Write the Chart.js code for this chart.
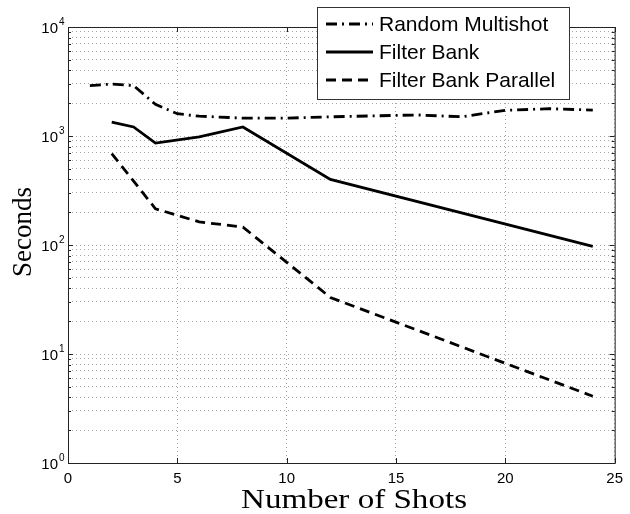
<!DOCTYPE html>
<html>
<head>
<meta charset="utf-8">
<script src="https://cdn.jsdelivr.net/npm/chart.js@4/dist/chart.umd.min.js"></script>
<style>
  html, body { margin: 0; padding: 0; background: #fff; }
  #wrap { width: 630px; height: 514px; position: relative; }
</style>
</head>
<body>
<div id="wrap"><canvas id="timing"></canvas></div>
<script>
// run time vs. number of shots
const seriesNames = ['Random Multishot', 'Filter Bank', 'Filter Bank Parallel'];

const randomShots = [1, 2, 3, 4, 5, 6, 8, 10, 12, 14, 16, 18, 20, 22, 24];
const randomSecs  = [2900, 3000, 2900, 1950, 1600, 1520, 1460, 1460, 1500, 1530, 1560, 1500, 1720, 1780, 1730];

const bankShots = [2, 3, 4, 6, 8, 12, 24];
const bankSecs  = [1340, 1210, 860, 980, 1210, 400, 97];

const parallelShots = [2, 4, 6, 8, 12, 24];
const parallelSecs  = [690, 215, 163, 146, 33, 4.1];

const xTicks = [0, 5, 10, 15, 20, 25];
const yDecades = [1, 10, 100, 1000, 10000];

const sansFamily = '"Liberation Sans", Arial, sans-serif';
const serifFamily = '"Liberation Serif", "Times New Roman", serif';

function toPoints(xs, ys) {
  return xs.map((x, i) => ({ x: x, y: ys[i] }));
}

// every 1..9 step inside each decade, so the minor grid shows up
function logTickValues() {
  const vals = [];
  for (let d = 0; d < yDecades.length - 1; d++) {
    for (let k = 1; k < 10; k++) vals.push(yDecades[d] * k);
  }
  vals.push(yDecades[yDecades.length - 1]);
  return vals;
}

function isDecade(v) {
  return yDecades.indexOf(v) >= 0;
}

// box around the axes, inward tick marks, 10^n labels, legend and titles
const frameTicks = {
  id: 'frameTicks',
  afterDatasetsDraw(chart) {
    const { ctx, chartArea: a, scales } = chart;
    ctx.save();
    ctx.strokeStyle = '#222';
    ctx.lineWidth = 1;
    ctx.setLineDash([]);
    ctx.strokeRect(a.left + 0.5, a.top + 0.5, a.right - a.left, a.bottom - a.top);
    ctx.beginPath();
    scales.y.ticks.forEach(t => {
      const py = Math.round(scales.y.getPixelForValue(t.value)) + 0.5;
      const len = isDecade(t.value) ? 5 : 3;
      ctx.moveTo(a.left, py); ctx.lineTo(a.left + len, py);
      ctx.moveTo(a.right, py); ctx.lineTo(a.right - len, py);
    });
    xTicks.forEach(v => {
      const px = Math.round(scales.x.getPixelForValue(v)) + 0.5;
      ctx.moveTo(px, a.bottom); ctx.lineTo(px, a.bottom - 5);
      ctx.moveTo(px, a.top); ctx.lineTo(px, a.top + 5);
    });
    ctx.stroke();
    ctx.restore();
  },
  afterDraw(chart) {
    const { ctx, chartArea: a, scales } = chart;
    ctx.save();

    // y labels as 10 with a raised exponent
    ctx.fillStyle = '#000';
    ctx.textBaseline = 'alphabetic';
    yDecades.forEach(v => {
      const py = scales.y.getPixelForValue(v);
      const exp = String(Math.round(Math.log10(v)));
      ctx.font = '15px ' + sansFamily;
      ctx.textAlign = 'right';
      ctx.fillText('10', a.left - 10, py + 6);
      ctx.font = '10px ' + sansFamily;
      ctx.textAlign = 'left';
      ctx.fillText(exp, a.left - 9, py - 2);
    });

    // legend
    const lx = 317, ly = 7, lw = 252, lh = 92;
    ctx.fillStyle = '#fff';
    ctx.fillRect(lx, ly, lw, lh);
    ctx.strokeStyle = '#333';
    ctx.lineWidth = 1;
    ctx.strokeRect(lx + 0.5, ly + 0.5, lw, lh);
    chart.data.datasets.forEach((ds, i) => {
      const y = 24 + i * 28;
      ctx.beginPath();
      ctx.strokeStyle = ds.borderColor;
      ctx.lineWidth = ds.borderWidth;
      ctx.lineCap = 'butt';
      ctx.setLineDash(ds.borderDash || []);
      ctx.moveTo(326, y);
      ctx.lineTo(373, y);
      ctx.stroke();
      ctx.setLineDash([]);
      ctx.fillStyle = '#000';
      ctx.font = '21px ' + sansFamily;
      ctx.textBaseline = 'middle';
      ctx.textAlign = 'left';
      ctx.fillText(ds.label, 379, y + 1);
    });

    // axis titles, the x one widened a little
    ctx.fillStyle = '#000';
    ctx.font = '27px ' + serifFamily;
    ctx.textBaseline = 'alphabetic';
    ctx.textAlign = 'center';
    const xTitle = 'Number of Shots';
    const stretch = 226 / ctx.measureText(xTitle).width;
    ctx.save();
    ctx.translate(354, 508);
    ctx.scale(stretch, 1);
    ctx.fillText(xTitle, 0, 0);
    ctx.restore();
    ctx.translate(31, 232);
    ctx.rotate(-Math.PI / 2);
    ctx.fillText('Seconds', 0, 0);
    ctx.restore();
  }
};

new Chart(document.getElementById('timing'), {
  type: 'line',
  data: {
    datasets: [
      {
        label: seriesNames[0],
        data: toPoints(randomShots, randomSecs),
        borderColor: '#000',
        borderWidth: 2.8,
        borderDash: [11, 5, 2, 5]
      },
      {
        label: seriesNames[1],
        data: toPoints(bankShots, bankSecs),
        borderColor: '#000',
        borderWidth: 2.8,
        borderDash: []
      },
      {
        label: seriesNames[2],
        data: toPoints(parallelShots, parallelSecs),
        borderColor: '#000',
        borderWidth: 2.8,
        borderDash: [10, 6]
      }
    ]
  },
  options: {
    responsive: true,
    maintainAspectRatio: false,
    animation: false,
    layout: { padding: { left: 0, right: 9, top: 27, bottom: 0 } },
    elements: {
      point: { radius: 0 },
      line: { tension: 0, borderCapStyle: 'butt', borderJoinStyle: 'miter' }
    },
    plugins: {
      legend: { display: false },
      tooltip: { enabled: false }
    },
    scales: {
      x: {
        type: 'linear',
        min: 0,
        max: 25,
        afterFit(scale) { scale.height = 51; },
        ticks: {
          stepSize: 5,
          color: '#000',
          font: { family: sansFamily, size: 15 },
          padding: 7,
          maxRotation: 0
        },
        grid: { color: '#a6a6a6', lineWidth: 1, drawTicks: false },
        border: { display: false, dash: [1, 3] }
      },
      y: {
        type: 'logarithmic',
        min: 1,
        max: 10000,
        afterFit(scale) { scale.width = 68; },
        afterBuildTicks(scale) {
          scale.ticks = logTickValues().map(v => ({ value: v, major: isDecade(v) }));
        },
        ticks: { display: false, autoSkip: false },
        grid: { color: '#a6a6a6', lineWidth: 1, drawTicks: false },
        border: { display: false, dash: [1, 3] }
      }
    }
  },
  plugins: [frameTicks]
});
</script>
</body>
</html>
